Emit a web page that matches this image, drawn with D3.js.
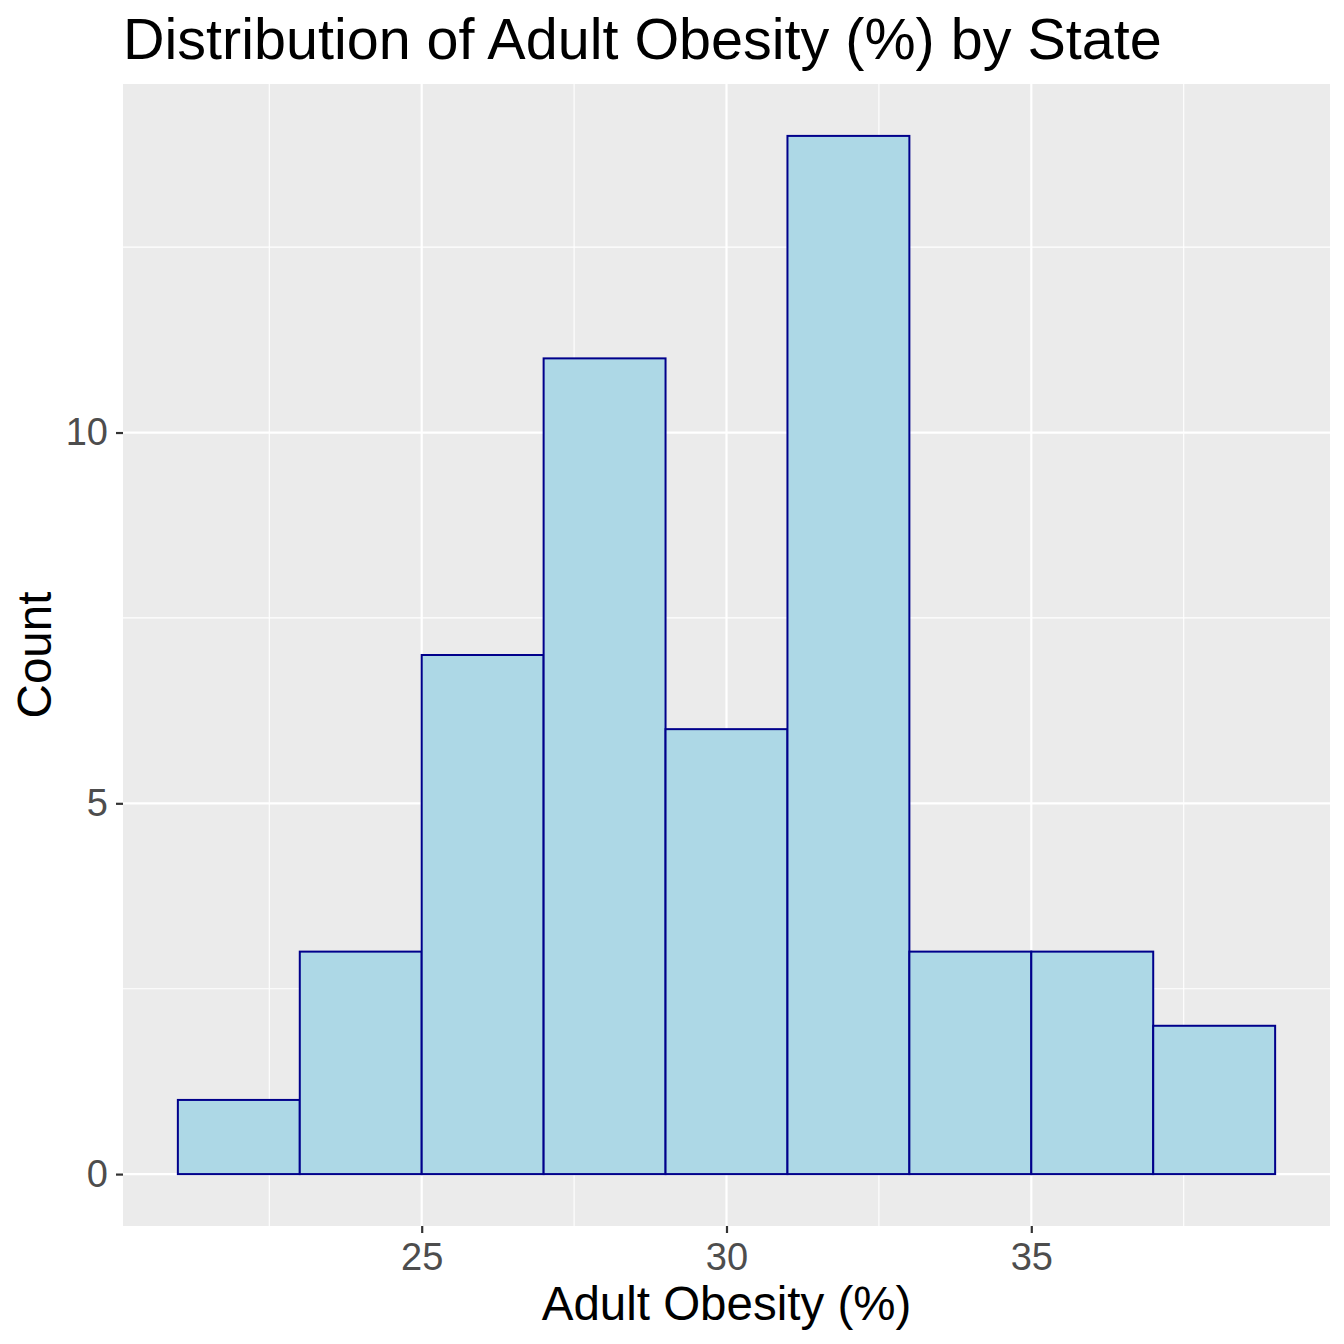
<!DOCTYPE html>
<html>
<head>
<meta charset="utf-8">
<script src="https://cdn.jsdelivr.net/npm/d3@7"></script>
<style>
body{margin:0;background:#fff;}
svg text{font-family:"Liberation Sans", Arial, sans-serif;}
</style>
</head>
<body>
<svg></svg>
<script>
// histogram bins (width 2) and the counts
var binStarts=[21,23,25,27,29,31,33,35,37];
var counts=[1,3,7,11,6,14,3,3,2];
var binWidth=2;
var xTicks=[25,30,35];
var xMinor=[22.5,27.5,32.5,37.5];
var yTicks=[0,5,10];
var yMinor=[2.5,7.5,12.5];

var width=1344;
var height=1344;
var panel={left:123,right:1330,top:84,bottom:1226};

var svg=d3.select("svg")
.attr("width",width)
.attr("height",height)

var x=d3.scaleLinear()
.domain([20.1,39.9])
.range([panel.left,panel.right]);

var y=d3.scaleLinear()
.domain([-0.7,14.7])
.range([panel.bottom,panel.top]);

svg.append("rect")
.attr("x",panel.left)
.attr("y",panel.top)
.attr("width",panel.right-panel.left)
.attr("height",panel.bottom-panel.top)
.attr("fill","#EBEBEB");

// minor grid
svg.selectAll("line.xminor")
.data(xMinor)
.enter()
.append("line")
.attr("x1",function(d){return x(d);})
.attr("x2",function(d){return x(d);})
.attr("y1",panel.top)
.attr("y2",panel.bottom)
.attr("stroke","#fff")
.attr("stroke-width",1.1);

svg.selectAll("line.yminor")
.data(yMinor)
.enter()
.append("line")
.attr("y1",function(d){return y(d);})
.attr("y2",function(d){return y(d);})
.attr("x1",panel.left)
.attr("x2",panel.right)
.attr("stroke","#fff")
.attr("stroke-width",1.1);

// major grid
svg.selectAll("line.xmajor")
.data(xTicks)
.enter()
.append("line")
.attr("x1",function(d){return x(d);})
.attr("x2",function(d){return x(d);})
.attr("y1",panel.top)
.attr("y2",panel.bottom)
.attr("stroke","#fff")
.attr("stroke-width",2.2);

svg.selectAll("line.ymajor")
.data(yTicks)
.enter()
.append("line")
.attr("y1",function(d){return y(d);})
.attr("y2",function(d){return y(d);})
.attr("x1",panel.left)
.attr("x2",panel.right)
.attr("stroke","#fff")
.attr("stroke-width",2.2);

// bars
svg.selectAll("rect.bar")
.data(counts)
.enter()
.append("rect")
.attr("class","bar")
.attr("x",function(d,i){return x(binStarts[i]);})
.attr("y",function(d){return y(d);})
.attr("width",function(d,i){return x(binStarts[i]+binWidth)-x(binStarts[i]);})
.attr("height",function(d){return y(0)-y(d);})
.attr("fill","#ADD8E6")
.attr("stroke","#00008B")
.attr("stroke-width",2);

// axes
var xAxis=svg.append("g")
.attr("transform","translate(0,"+panel.bottom+")")
.call(d3.axisBottom(x).tickValues(xTicks).tickSize(7).tickPadding(10));

var yAxis=svg.append("g")
.attr("transform","translate("+panel.left+",0)")
.call(d3.axisLeft(y).tickValues(yTicks).tickSize(7).tickPadding(8));

[xAxis,yAxis].forEach(function(a){
a.select(".domain").remove();
a.selectAll(".tick line").attr("stroke","#333").attr("stroke-width",2.2);
a.selectAll(".tick text")
.attr("fill","#4D4D4D")
.style("font-size","38px")
.style("font-family","'Liberation Sans', Arial, sans-serif");
});

// titles
svg.append("text")
.attr("x",panel.left)
.attr("y",59)
.text("Distribution of Adult Obesity (%) by State")
.style("font-size","57.5px")
.attr("fill","#000");

svg.append("text")
.attr("x",(panel.left+panel.right)/2)
.attr("y",1320)
.attr("text-anchor","middle")
.text("Adult Obesity (%)")
.style("font-size","47.5px")
.attr("fill","#000");

svg.append("text")
.attr("transform","translate(51,"+((panel.top+panel.bottom)/2)+") rotate(-90)")
.attr("text-anchor","middle")
.text("Count")
.style("font-size","47.5px")
.attr("fill","#000");
</script>
</body>
</html>
